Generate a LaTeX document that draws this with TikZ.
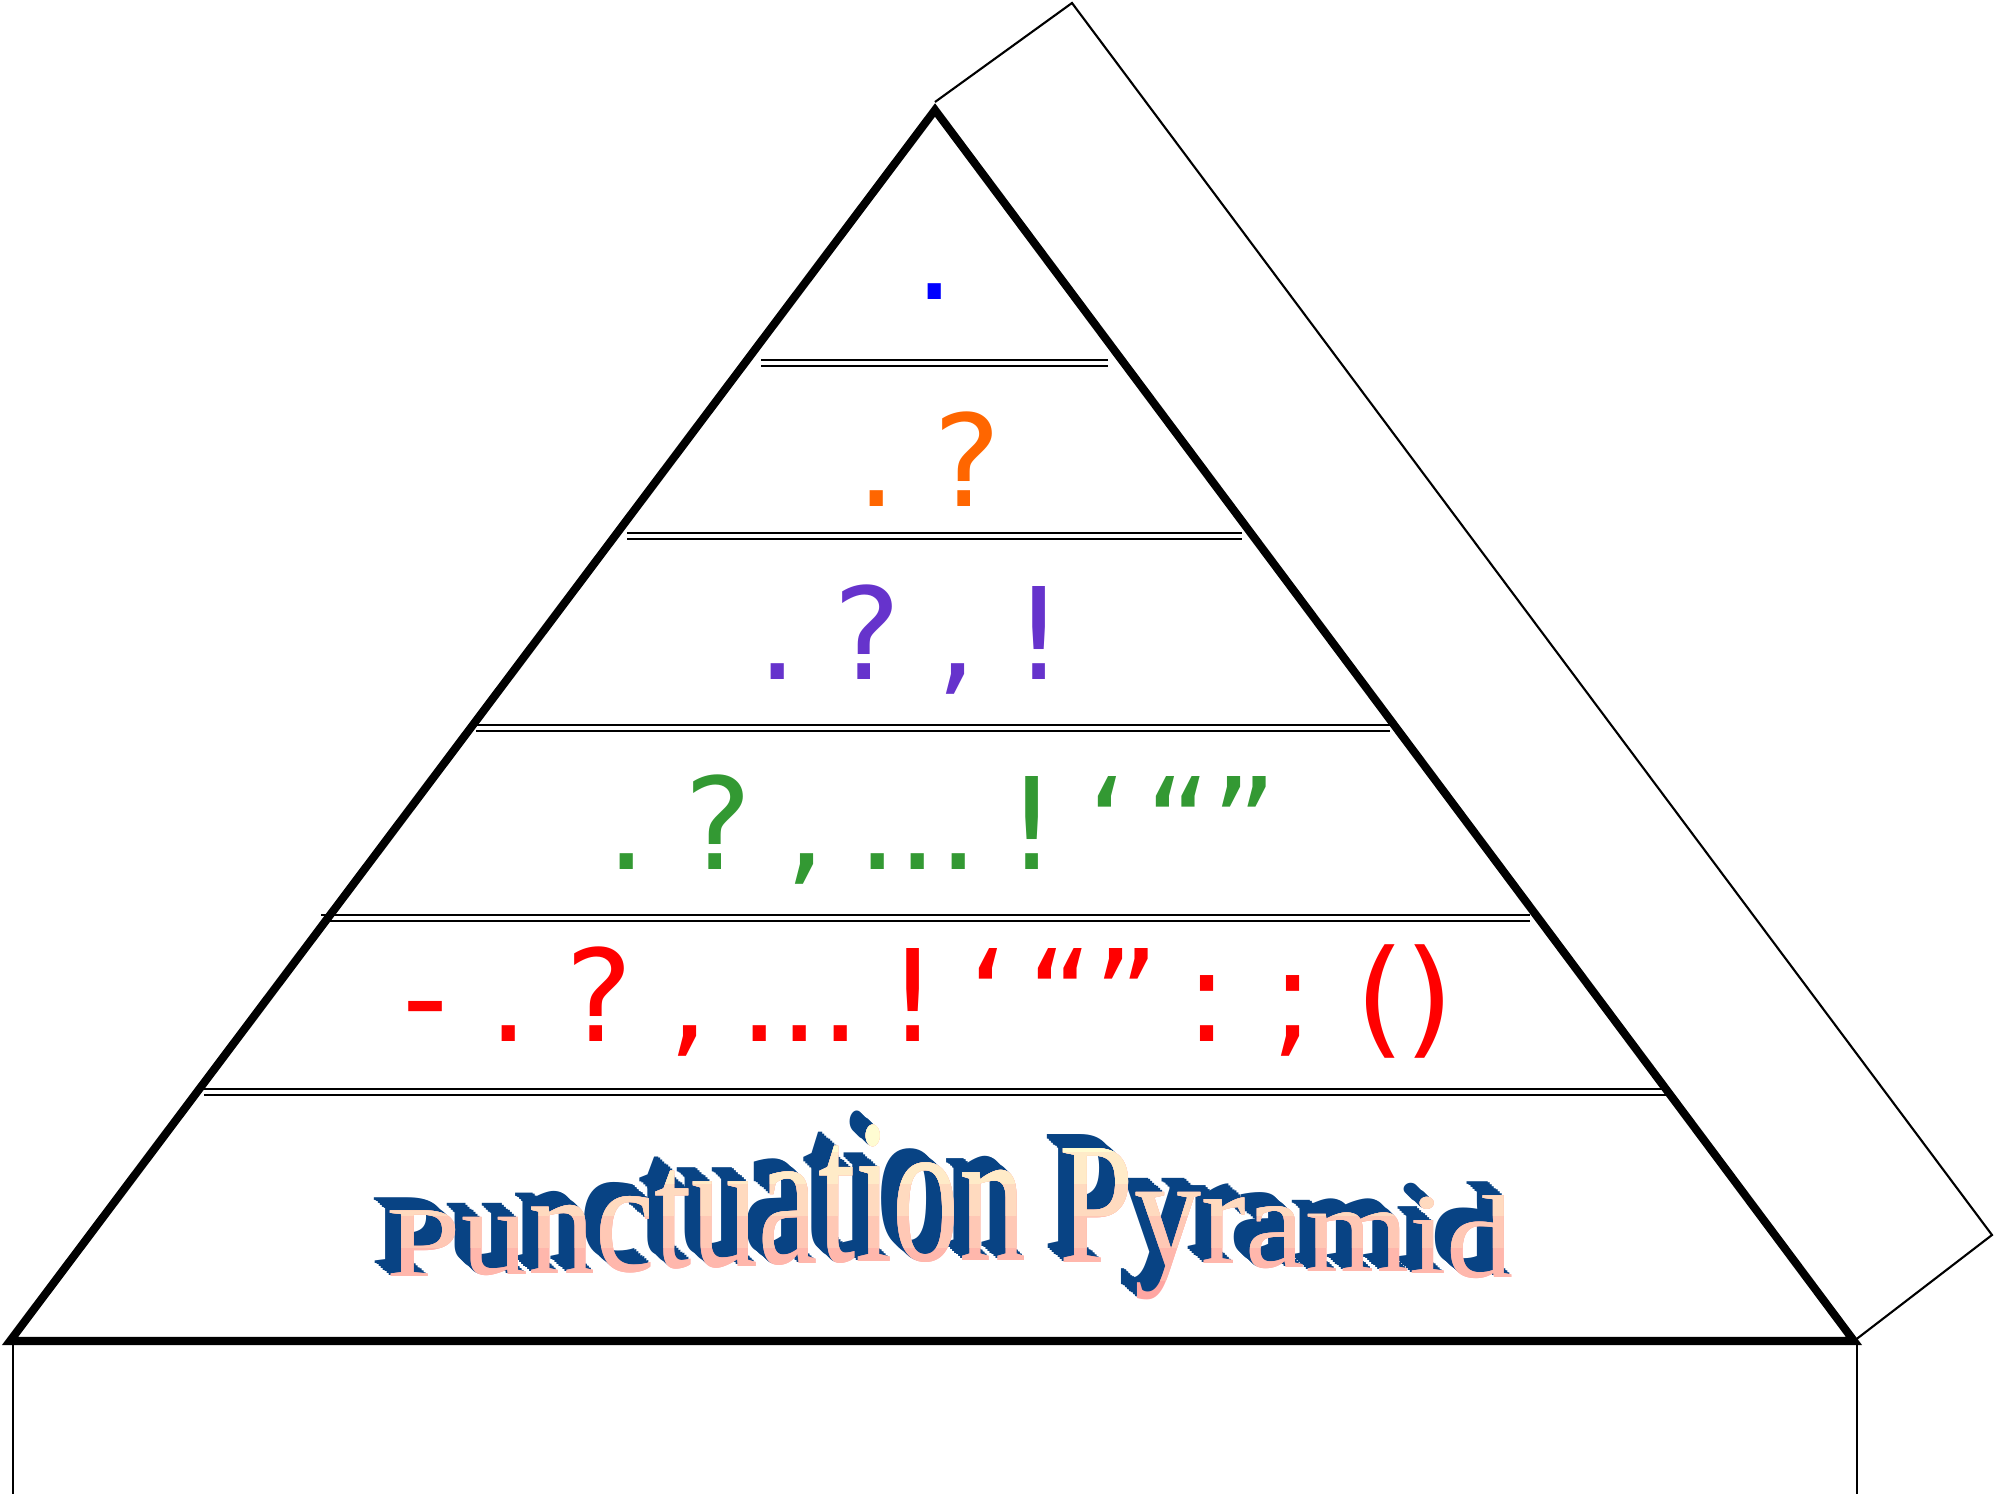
\documentclass[tikz,border=0pt]{standalone}
\usepackage{fontspec}
\usepackage{graphicx}
\setmainfont{DejaVu Sans}
\newfontfamily\titlefont{Liberation Serif}

\definecolor{dotblue}{HTML}{0000FF}
\definecolor{qorange}{HTML}{FF6600}
\definecolor{qpurple}{HTML}{6633CC}
\definecolor{qgreen}{HTML}{339933}
\definecolor{qred}{HTML}{FF0000}
\definecolor{depthblue}{HTML}{084384}
\definecolor{facepink}{HTML}{FFA6A2}
\definecolor{facecream}{HTML}{FFFCD2}

% one letter of the arched title: letter, raise (pt), vertical stretch
\newcommand\arch[3]{\raisebox{#2pt}{\scalebox{1}[#3]{#1}}}
\newcommand\titlearch{%
  \arch{P}{0}{.75}\arch{u}{.6}{.93}\arch{n}{1.1}{1.08}\arch{c}{1.7}{1.19}%
  \arch{t}{2.8}{1.28}\arch{u}{3.1}{1.38}\arch{a}{3.7}{1.46}\arch{t}{4.3}{1.53}%
  \arch{i}{4.3}{1.54}\arch{o}{4.6}{1.55}\arch{n}{4.8}{1.43}\ %
  \arch{P}{4.0}{1.30}\arch{y}{3.4}{1.19}\arch{r}{3.7}{1.04}\arch{a}{2.6}{.97}%
  \arch{m}{1.7}{.93}\arch{i}{.9}{.86}\arch{d}{0}{.88}}
\newcommand\threedots{...}

\begin{document}
\begin{tikzpicture}[
    pyr/.style={line width=2.3pt},
    backline/.style={line width=0.6pt},
    sepline/.style={double, line width=0.6pt, double distance=0.9pt},
    punct/.style={anchor=base, inner sep=0pt, font=\fontsize{36.3}{40}\selectfont},
    title/.style={anchor=base west, inner sep=0pt, font=\titlefont\fontsize{38.1}{40}\selectfont}]
	\useasboundingbox (0,0) rectangle (19.99,14.94);

	\coordinate (apex) at (9.35,13.84);
	\coordinate (bl) at (0.10,1.53);
	\coordinate (br) at (18.54,1.53);
	\coordinate (tip) at (9.35,13.92);
	\coordinate (backtop) at (10.72,14.91);
	\coordinate (backright) at (19.92,2.59);

	% back face and the walls below
	\draw[backline] (tip) -- (backtop) -- (backright) -- (br);
	\draw[line width=0.4pt] (0.13,1.53) -- (0.13,0);
	\draw[line width=0.4pt] (18.57,1.53) -- (18.57,0);

	% floors
	\foreach \y/\l/\r in {11.31/7.61/11.08, 9.58/6.27/12.42, 7.66/4.76/13.90,
	                      5.76/3.21/15.30, 4.02/2.04/16.66}
		\draw[sepline] (\l,\y) -- (\r,\y);

	\draw[pyr] (apex) -- (bl) -- (br) -- cycle;

	% punctuation rows
	\node[punct, text=dotblue] (r1) at (9.35,11.94) {.};
	\foreach \x/\g [count=\i] in {8.77/., 9.67/?}
		\node[punct, text=qorange] (r2-\i) at (\x,9.87) {\g};
	\foreach \x/\g [count=\i] in {7.78/., 8.67/?, 9.57/{,}, 10.39/!}
		\node[punct, text=qpurple] (r3-\i) at (\x,8.15) {\g};
	\foreach \x/\g [count=\i] in {6.27/., 7.18/?, 8.06/{,}, 9.18/{\threedots},
	                              10.32/!, 11.08/‘, 12.12/“”}
		\node[punct, text=qgreen] (r4-\i) at (\x,6.24) {\g};
	\foreach \x/\g [count=\i] in {4.26/-, 5.09/., 5.99/?, 6.89/{,}, 8.00/{\threedots},
	                              9.13/!, 9.89/‘, 10.94/“”, 12.07/:, 12.93/;, 14.05/()}
		\node[punct, text=qred] (r5-\i) at (\x,4.52) {\g};

	% title: blue depth, then the shaded face
	\foreach \k in {8,...,1}
		\node[title, text=depthblue] (depth\k) at ({3.86-0.02*\k},{2.17+0.0175*\k}) {\titlearch};
	\foreach \k [evaluate=\k as \mix using 100-20*\k,
	             evaluate=\k as \cut using 1.82+0.32*\k] in {0,...,5} {
		\begin{scope}
			\clip (3,\cut) rectangle (16,4.2);
			\node[title, text=facepink!\mix!facecream] (face\k) at (3.86,2.17) {\titlearch};
		\end{scope}
	}
\end{tikzpicture}
\end{document}
